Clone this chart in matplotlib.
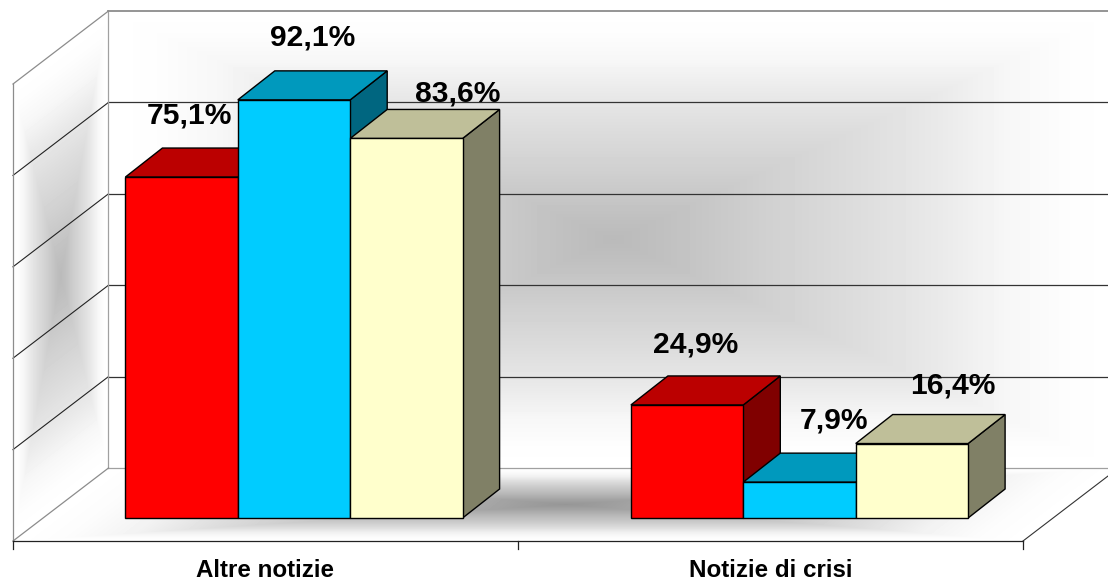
import numpy as np
import matplotlib
matplotlib.use("Agg")
import matplotlib.pyplot as plt
from matplotlib.patches import Polygon

categories = ["Altre notizie", "Notizie di crisi"]
series_red = [75.1, 24.9]
series_blue = [92.1, 7.9]
series_yellow = [83.6, 16.4]
grid_values = [0, 20, 40, 60, 80, 100]

# front, top, side colours per series
red_cols = ("#ff0000", "#bb0000", "#800000")
blue_cols = ("#00ccff", "#0099bd", "#006680")
yellow_cols = ("#ffffcc", "#bfbf99", "#808066")

W, H = 1108, 581
X_UNIT = 505.5  # px per category
Y_UNIT = 4.54   # px per percent
X_ORIGIN = 294.0
Y_ORIGIN = 518.0

def dx(px):
    return (px - X_ORIGIN) / X_UNIT

def dy(py):
    return (Y_ORIGIN - py) / Y_UNIT

# room corners, in data units
x_front_l, x_back_l = dx(13), dx(108.5)
x_front_r, x_back_r = dx(1023), dx(1118.5)
y_front, y_back = dy(541), dy(468)
grid_k = 4.57 / Y_UNIT
y_span = 100 * grid_k
bar_w = 112.4 / X_UNIT
depth_x, depth_y = 37 / X_UNIT, 29 / Y_UNIT

def shade(u, v, center):
    """rectangular path gradient, grey in the middle, white on the edges"""
    d = np.maximum(np.abs(2 * u - 1), np.abs(2 * v - 1))
    f = np.interp(d, [0, 0.1, 0.3, 0.5, 0.64, 0.78, 0.9, 1], [0, 0.09, 0.32, 0.52, 0.68, 0.88, 0.97, 1])
    return center + (255 - center) * f

fig = plt.figure(figsize=(W / 100, H / 100), dpi=100)
ax = fig.add_axes([0, 0, 1, 1])

# gradients of back wall, left wall and floor
xs = np.linspace(dx(0.5), dx(W - 0.5), W)
ys = np.linspace(dy(0.5), dy(H - 0.5), H)
xx, yy = np.meshgrid(xs, ys)
img = np.full(xx.shape, 255.0)

u = (xx - x_back_l) / (x_back_r - x_back_l)
v = (yy - y_back) / y_span
mask = (u >= 0) & (u <= 1) & (v >= 0) & (v <= 1)
img[mask] = shade(u, v, 186)[mask]

u = (xx - x_front_l) / (x_back_l - x_front_l)
v = (yy - (y_front + u * (y_back - y_front))) / y_span
mask = (u >= 0) & (u <= 1) & (v >= 0) & (v <= 1)
img[mask] = shade(u, v, 186)[mask]

v = (yy - y_front) / (y_back - y_front)
u = (xx - (x_front_l + v * (x_back_l - x_front_l))) / (x_front_r - x_front_l)
mask = (u >= 0) & (u <= 1) & (v >= 0) & (v <= 1)
img[mask] = shade(u, v, 150)[mask]

ax.imshow(img, cmap="gray", vmin=0, vmax=255, aspect="auto", interpolation="nearest",
          extent=(dx(0), dx(W), dy(H), dy(0)), origin="upper", zorder=0)

# grid lines on back wall and left wall
for g in grid_values[1:-1]:
    y_b = y_back + g * grid_k
    y_f = y_front + g * grid_k
    ax.plot([x_back_l, x_back_r], [y_b, y_b], color="#333333", lw=0.9, zorder=1)
    ax.plot([x_front_l, x_back_l], [y_f, y_b], color="#222222", lw=0.8, zorder=1)

# room outline
top_b = y_back + y_span
top_f = y_front + y_span
outline = "#8c8c8c"
ax.plot([x_back_l, x_back_r], [top_b, top_b], color=outline, lw=1.3, zorder=1)
ax.plot([x_back_l, x_back_r], [y_back, y_back], color="#a0a0a0", lw=0.9, zorder=1)
ax.plot([x_back_l, x_back_l], [y_back, top_b], color="#a0a0a0", lw=0.9, zorder=1)
ax.plot([x_front_l, x_front_l], [y_front, top_f], color=outline, lw=0.9, zorder=1)
ax.plot([x_front_l, x_back_l], [top_f, top_b], color=outline, lw=0.9, zorder=1)
ax.plot([x_front_l, x_back_l], [y_front, y_back], color=outline, lw=0.9, zorder=1)
ax.plot([x_front_r, x_back_r], [y_front, y_back], color="#333333", lw=0.8, zorder=1)
ax.plot([x_front_l, x_front_r], [y_front, y_front], color="#222222", lw=0.9, zorder=1)

# category axis ticks and labels
tick_step = (x_front_r - x_front_l) / len(categories)
for i in range(len(categories) + 1):
    x_t = x_front_l + i * tick_step
    ax.plot([x_t, x_t], [y_front, y_front - 8 / Y_UNIT], color="#222222", lw=0.9, zorder=1)
for i, name in enumerate(categories):
    ax.text(x_front_l + (i + 0.5) * tick_step, dy(570.5), name, ha="center", va="center",
            fontsize=17.4, fontweight="bold", family="Liberation Sans", color="black")

# bars: side and top first, front through ax.bar, left to right
all_series = [(series_red, red_cols), (series_blue, blue_cols), (series_yellow, yellow_cols)]
for j, (vals, cols) in enumerate(all_series):
    for i, val in enumerate(vals):
        x0 = i + (j - 1.5) * bar_w
        x1 = x0 + bar_w
        side = [(x1, 0), (x1 + depth_x, depth_y), (x1 + depth_x, val + depth_y), (x1, val)]
        top = [(x0, val), (x1, val), (x1 + depth_x, val + depth_y), (x0 + depth_x, val + depth_y)]
        ax.add_patch(Polygon(side, closed=True, fc=cols[2], ec="black", lw=1.0, zorder=2, joinstyle="miter"))
        ax.add_patch(Polygon(top, closed=True, fc=cols[1], ec="black", lw=1.0, zorder=2, joinstyle="miter"))
        ax.bar(x0, val, width=bar_w, align="edge", color=cols[0], edgecolor="black", lw=1.0, zorder=2)

# value labels, offset from bar centre / bar top (hand placed like in the original)
label_off = [[(8, 62), (9, 60)], [(19, 62), (34, 62)], [(51, 45), (41, 58)]]
for j, (vals, cols) in enumerate(all_series):
    for i, val in enumerate(vals):
        xc = i + (j - 1) * bar_w + label_off[j][i][0] / X_UNIT
        yc = val + label_off[j][i][1] / Y_UNIT
        ax.text(xc, yc, f"{val:.1f}".replace(".", ",") + "%", ha="center", va="center",
                fontsize=21.6, fontweight="bold", family="Liberation Sans", color="black", zorder=3)

ax.set_xlim(dx(0), dx(W))
ax.set_ylim(dy(H), dy(0))
ax.axis("off")

fig.savefig("out.png", dpi=100)
